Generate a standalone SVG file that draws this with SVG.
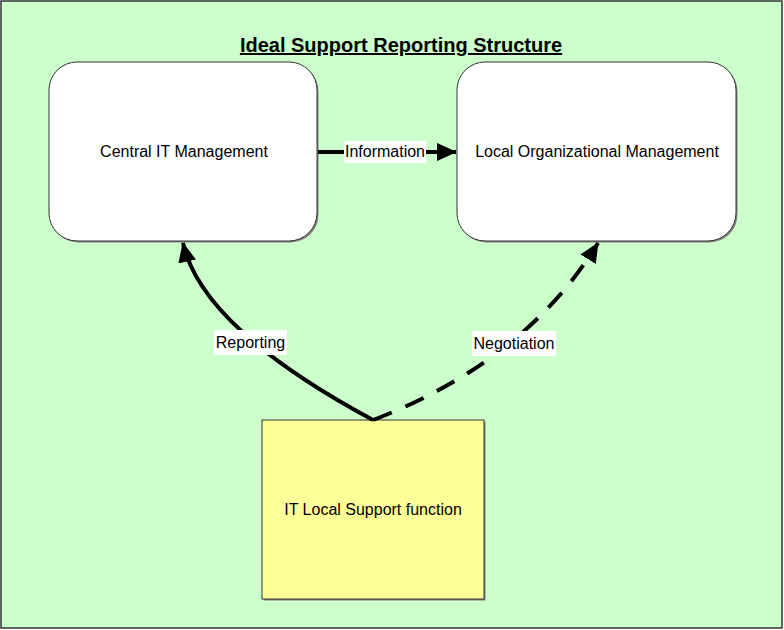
<svg xmlns="http://www.w3.org/2000/svg" width="784" height="630" viewBox="0 0 784 630">
<defs>
<style>
text{font-family:"Liberation Sans",Arial,sans-serif;fill:#000}
.lbl{font-size:16px;text-anchor:middle}
.node{stroke:#333;stroke-width:1}
.shadow{fill:#808080}
.conn{fill:none;stroke:#000;stroke-width:4}
.lblbg{fill:#fff}
</style>
<marker id="arr" markerUnits="userSpaceOnUse" markerWidth="22" markerHeight="18" refX="19" refY="9" orient="auto">
<path d="M0,0 L20,9 L0,18 Z" fill="#000"/>
</marker>
</defs>
<rect x="1" y="1" width="781" height="627" fill="#CCFFCC" stroke="#333" stroke-width="1.5"/>
<text x="401" y="52" font-size="20" font-weight="bold" text-anchor="middle" text-decoration="underline">Ideal Support Reporting Structure</text>

<g id="central">
<rect class="shadow" x="50.5" y="63.5" width="268" height="179" rx="28"/>
<rect class="node" x="49" y="62" width="268" height="179" rx="28" fill="#fff"/>
<text class="lbl" x="184" y="157">Central IT Management</text>
</g>
<g id="local">
<rect class="shadow" x="458.5" y="63.5" width="279" height="179" rx="28"/>
<rect class="node" x="457" y="62" width="279" height="179" rx="28" fill="#fff"/>
<text class="lbl" x="597" y="157">Local Organizational Management</text>
</g>
<g id="support">
<rect class="shadow" x="263.5" y="421.5" width="222" height="179"/>
<rect class="node" x="262" y="420" width="222" height="179" fill="#FFFF99"/>
<text class="lbl" x="373" y="515">IT Local Support function</text>
</g>

<g id="connectors">
<path class="conn" d="M318,152 L456,152" marker-end="url(#arr)"/>
<rect class="lblbg" x="344" y="141" width="82" height="22"/>
<text class="lbl" x="385" y="157">Information</text>

<path class="conn" d="M373,420 Q202,328 183,243" marker-end="url(#arr)"/>
<rect class="lblbg" x="214" y="330" width="73" height="25"/>
<text class="lbl" x="250.5" y="348">Reporting</text>

<path class="conn" d="M373,420 Q525,362 598,243" stroke-dasharray="20,15" marker-end="url(#arr)"/>
<rect class="lblbg" x="472" y="331" width="84" height="25"/>
<text class="lbl" x="514" y="349">Negotiation</text>
</g>
</svg>
